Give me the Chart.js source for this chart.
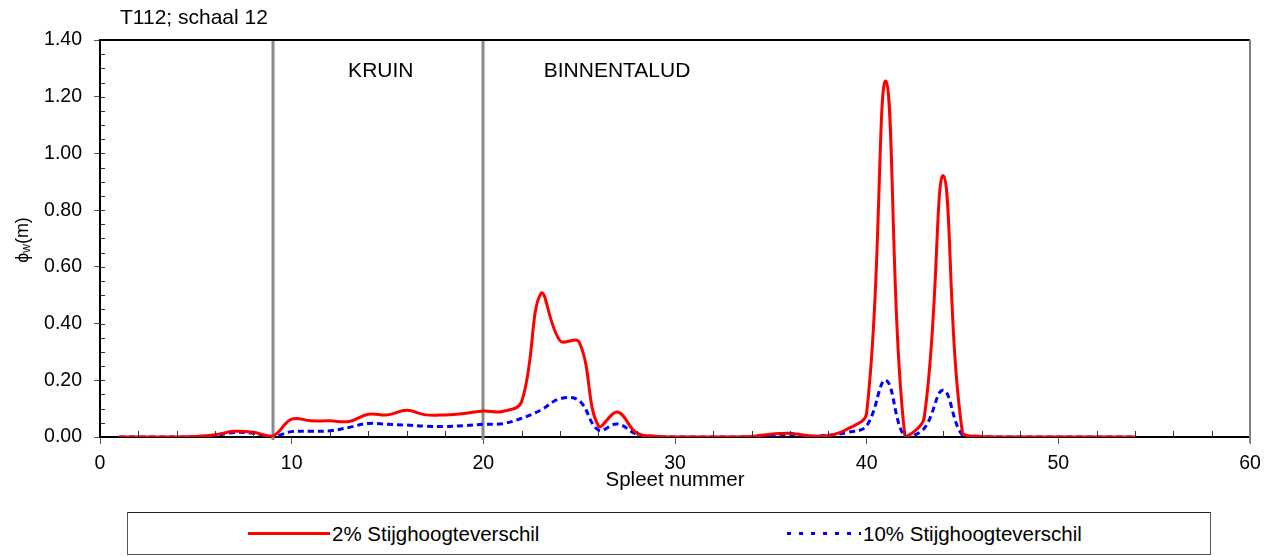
<!DOCTYPE html>
<html>
<head>
<meta charset="utf-8">
<script src="https://cdn.jsdelivr.net/npm/chart.js@4.4.0/dist/chart.umd.min.js"></script>
<style>
  html, body { margin: 0; padding: 0; background: #fff; }
  #wrap { position: relative; width: 1275px; height: 556px; font-family: "Liberation Sans", Arial, sans-serif; }
  #chart { position: absolute; left: 0; top: 0; }
  .legend-box { position: absolute; left: 127px; top: 512px; width: 1082px; height: 41px; border: 1px solid #555; border-top-color: #222; background: #fff; }
  .legend-item { position: absolute; top: 0; height: 41px; line-height: 41px; font-size: 20.5px; color: #000; white-space: nowrap; }
  .sample { display: inline-block; vertical-align: middle; height: 3px; margin-right: 2px; position: relative; top: -2px; }
  .sample.red { width: 82px; background: #ff0000; }
  .sample.blue { width: 74px; background: repeating-linear-gradient(90deg, #0000ff 0 4px, transparent 4px 12px); }
</style>
</head>
<body>
<div id="wrap">
  <canvas id="chart" width="1275" height="556"></canvas>
  <div class="legend-box">
    <div class="legend-item" style="left:120px;"><span class="sample red"></span><span class="lbl">2% Stijghoogteverschil</span></div>
    <div class="legend-item" style="left:659px;"><span class="sample blue"></span><span class="lbl">10% Stijghoogteverschil</span></div>
  </div>
</div>
<script>
// spleet nummers en gemeten waarden
let spleet = [1,2,3,4,5,6,7,8,9,10,11,12,13,14,15,16,17,18,19,20,21,22,23,24,25,26,27,
              28,29,30,31,32,33,34,35,36,37,38,39,40,41,42,43,44,45,46,47,48,49,50,51,52,53,54];
let verschil2 = [0,0,0,0,0.002,0.008,0.02,0.017,0.003,0.063,0.057,0.057,0.055,0.08,0.078,0.094,0.078,0.078,
                 0.083,0.092,0.09,0.125,0.505,0.34,0.335,0.04,0.088,0.014,0.003,0,0,0,0,0.002,0.01,0.013,
                 0.004,0.005,0.028,0.085,1.255,0,0.068,0.922,0.015,0.002,0,0,0,0,0,0,0,0];
let verschil10 = [0,0,0,0,0.001,0.005,0.016,0.013,0.002,0.019,0.02,0.022,0.034,0.048,0.045,0.042,0.038,0.037,
                  0.04,0.045,0.047,0.066,0.095,0.135,0.128,0.025,0.046,0.01,0.002,0,0,0,0,0.001,0.006,0.008,
                  0.003,0.006,0.016,0.04,0.2,0,0.03,0.165,0.006,0.001,0,0,0,0,0,0,0,0];
let grenzen = [9, 20];
let zones = [{ text: 'KRUIN', x: 14.65, align: 'center' }, { text: 'BINNENTALUD', x: 23.15, align: 'left' }];
let xTicks = [0, 10, 20, 30, 40, 50, 60];
let yTicks = [0, 0.2, 0.4, 0.6, 0.8, 1.0, 1.2, 1.4];

let font = '"Liberation Sans", Arial, sans-serif';

function punten(vals) {
    return spleet.map((s, i) => ({ x: s, y: vals[i] }));
}

// extra tekening: kader, kleine streepjes, grenslijnen, labels
let extras = {
    id: 'extras',
    beforeDatasetsDraw(chart) {
        let ctx = chart.ctx;
        let a = chart.chartArea;
        let xs = chart.scales.x;
        ctx.save();
        ctx.strokeStyle = '#8a8a8a';
        ctx.lineWidth = 3;
        grenzen.forEach(g => {
            let px = Math.round(xs.getPixelForValue(g));
            ctx.beginPath();
            ctx.moveTo(px, a.top);
            ctx.lineTo(px, a.bottom + 3);
            ctx.stroke();
        });
        ctx.restore();
    },
    afterDraw(chart) {
        let ctx = chart.ctx;
        let a = chart.chartArea;
        let xs = chart.scales.x, ys = chart.scales.y;
        ctx.save();
        // kader boven en rechts
        ctx.strokeStyle = '#000';
        ctx.lineWidth = 2;
        ctx.beginPath();
        ctx.moveTo(a.left, a.top);
        ctx.lineTo(a.right, a.top);
        ctx.stroke();
        ctx.strokeStyle = '#808080';
        ctx.beginPath();
        ctx.moveTo(a.right, a.top);
        ctx.lineTo(a.right, a.bottom + 6);
        ctx.stroke();
        // kleine streepjes
        ctx.strokeStyle = '#333';
        ctx.lineWidth = 1;
        for (let v = 0.05; v < 1.4; v += 0.05) {
            let py = Math.round(ys.getPixelForValue(v)) + 0.5;
            ctx.beginPath();
            ctx.moveTo(a.left, py);
            ctx.lineTo(a.left + 5, py);
            ctx.stroke();
        }
        for (let v = 2; v < 60; v += 2) {
            if (v % 10 == 0) continue;
            let px = Math.round(xs.getPixelForValue(v)) + 0.5;
            ctx.beginPath();
            ctx.moveTo(px, a.bottom);
            ctx.lineTo(px, a.bottom - 6);
            ctx.stroke();
        }
        // zone labels
        ctx.fillStyle = '#000';
        ctx.font = '21px ' + font;
        ctx.textBaseline = 'middle';
        zones.forEach(z => {
            ctx.textAlign = z.align;
            ctx.fillText(z.text, xs.getPixelForValue(z.x), ys.getPixelForValue(1.29));
        });
        // titel
        ctx.textAlign = 'left';
        ctx.fillText('T112; schaal 12', 120, 18);
        // x as titel
        ctx.font = '20.5px ' + font;
        ctx.textAlign = 'center';
        ctx.fillText('Spleet nummer', (a.left + a.right) / 2, 480);
        // y as titel met subscript
        ctx.translate(23, 240);
        ctx.rotate(-Math.PI / 2);
        ctx.textAlign = 'left';
        let phi = '\u03D5', w = 'w', m = '(m)';
        ctx.font = '18px ' + font;
        let w1 = ctx.measureText(phi).width;
        let w3 = ctx.measureText(m).width;
        ctx.font = '12px ' + font;
        let w2 = ctx.measureText(w).width;
        let start = -(w1 + w2 + w3) / 2;
        ctx.font = '18px ' + font;
        ctx.fillText(phi, start, 0);
        ctx.font = '12px ' + font;
        ctx.fillText(w, start + w1, 4);
        ctx.font = '18px ' + font;
        ctx.fillText(m, start + w1 + w2, 0);
        ctx.restore();
    }
};

let ctx = document.getElementById('chart').getContext('2d');
let chart = new Chart(ctx, {
    type: 'line',
    data: {
        datasets: [{
            label: '2% Stijghoogteverschil',
            data: punten(verschil2),
            borderColor: '#ff0000',
            borderWidth: 3,
            pointRadius: 0,
            tension: 0.4,
            fill: false
        }, {
            label: '10% Stijghoogteverschil',
            data: punten(verschil10),
            borderColor: '#0000ff',
            borderWidth: 3,
            borderDash: [6, 4],
            pointRadius: 0,
            tension: 0.4,
            fill: false
        }]
    },
    options: {
        responsive: false,
        animation: false,
        layout: { padding: { left: 0, top: 40, right: 25, bottom: 0 } },
        plugins: {
            legend: { display: false },
            tooltip: { enabled: false }
        },
        scales: {
            x: {
                type: 'linear',
                min: 0, max: 60,
                afterBuildTicks: s => { s.ticks = xTicks.map(v => ({ value: v })); },
                afterFit: s => { s.height = 119; },
                grid: { drawOnChartArea: false, drawTicks: true, tickLength: 7, color: '#555' },
                border: { display: true, color: '#000', width: 2 },
                ticks: { color: '#000', font: { family: font, size: 19.5 }, padding: 8, maxRotation: 0 }
            },
            y: {
                min: 0, max: 1.4,
                afterBuildTicks: s => { s.ticks = yTicks.map(v => ({ value: v })); },
                afterFit: s => { s.width = 100; },
                grid: { drawOnChartArea: false, drawTicks: true, tickLength: 6, color: '#555' },
                border: { display: true, color: '#000', width: 2 },
                ticks: { color: '#000', font: { family: font, size: 19.5 }, padding: 12,
                         callback: v => v.toFixed(2) }
            }
        }
    },
    plugins: [extras]
});
</script>
</body>
</html>
